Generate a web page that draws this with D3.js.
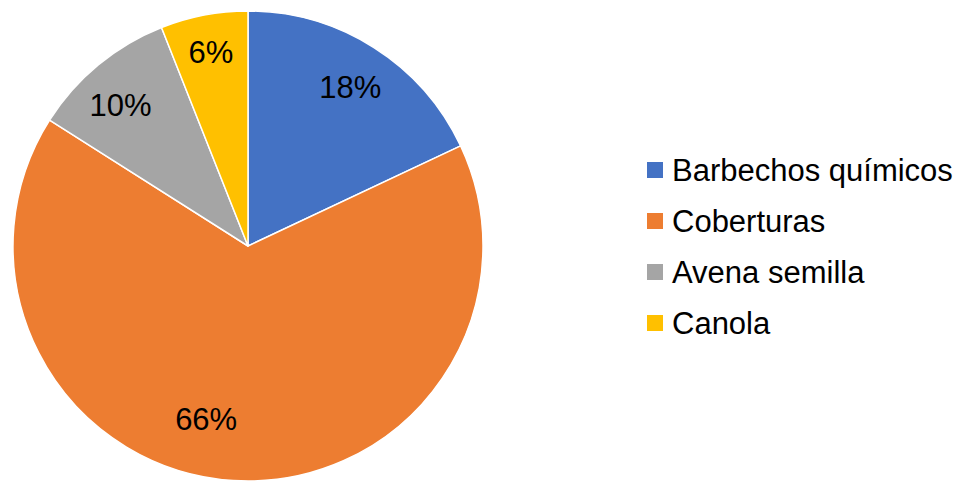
<!DOCTYPE html>
<html>
<head>
<meta charset="utf-8">
<script src="https://cdn.jsdelivr.net/npm/d3@7"></script>
<style>
  html, body { margin: 0; padding: 0; background: #fff; }
  svg { display: block; font-family: "Liberation Sans", Arial, sans-serif; }
</style>
</head>
<body>
<svg id="chart" width="966" height="482"></svg>
<script>
// Share of area by use (percent)
const categories = ["Barbechos químicos", "Coberturas", "Avena semilla", "Canola"];
const shares = [18, 66, 10, 6];
const sliceColors = ["#4472C4", "#ED7D31", "#A5A5A5", "#FFC000"];

// Layout
const W = 966, H = 482;
const cx = 248, cy = 246, radius = 235;
const labelRadius = 188;
// best-fit rotation (degrees) and radial shift applied to individual data labels
const labelTurn = [0.4, 10, -2.5, 0];
const labelRadiusAdj = [1, -10, 2, 10];

const svg = d3.select("#chart");

const pie = d3.pie().sort(null).value(d => d);
const arcs = pie(shares);

const arc = d3.arc().innerRadius(0).outerRadius(radius);

const g = svg.append("g").attr("transform", `translate(${cx},${cy})`);

g.selectAll("path.slice")
  .data(arcs)
  .join("path")
  .attr("class", "slice")
  .attr("d", arc)
  .attr("fill", (d, i) => sliceColors[i])
  .attr("stroke", "#fff")
  .attr("stroke-width", 1.5)
  .attr("stroke-linejoin", "round");

const fmt = d => d + "%";

g.selectAll("text.pct")
  .data(arcs)
  .join("text")
  .attr("class", "pct")
  .attr("transform", (d, i) => {
    const a = (d.startAngle + d.endAngle) / 2 + labelTurn[i] * Math.PI / 180;
    const r = labelRadius + labelRadiusAdj[i];
    return `translate(${Math.sin(a) * r},${-Math.cos(a) * r})`;
  })
  .attr("text-anchor", "middle")
  .attr("dy", "0.36em")
  .attr("font-size", 31)
  .attr("fill", "#000")
  .text(d => fmt(d.data));

// Legend
const legendX = 647, legendY0 = 170, legendStep = 51, box = 16;
const legend = svg.append("g");
const item = legend.selectAll("g.item")
  .data(categories)
  .join("g")
  .attr("class", "item")
  .attr("transform", (d, i) => `translate(${legendX},${legendY0 + i * legendStep})`);

item.append("rect")
  .attr("x", 0)
  .attr("y", -box / 2)
  .attr("width", box)
  .attr("height", box)
  .attr("fill", (d, i) => sliceColors[i]);

item.append("text")
  .attr("x", 25)
  .attr("dy", "0.36em")
  .attr("font-size", 31)
  .attr("fill", "#000")
  .text(d => d);
</script>
</body>
</html>
